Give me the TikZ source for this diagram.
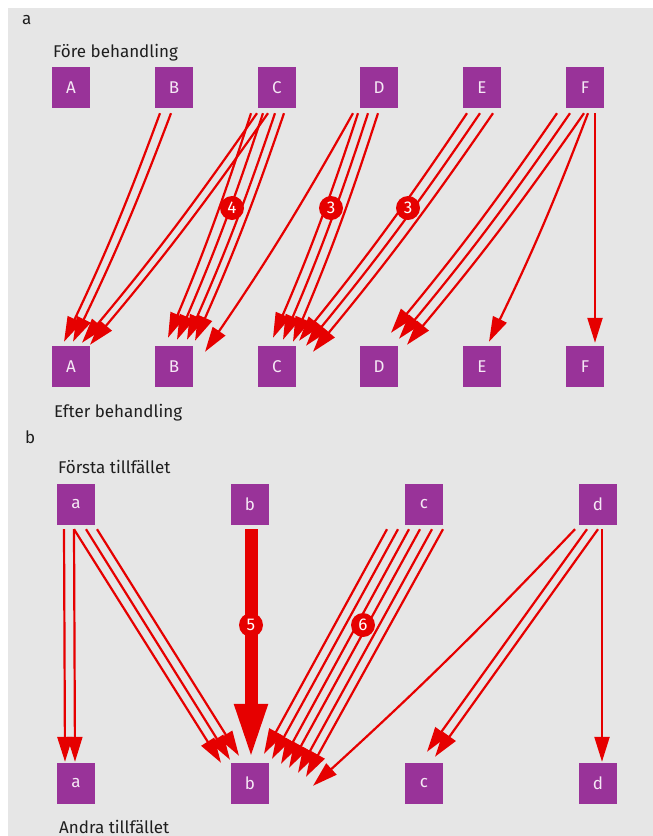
\documentclass[tikz,border=0pt]{standalone}
\usepackage{fontspec}
\setmainfont{Fira Sans}
\usetikzlibrary{arrows.meta,calc}
\definecolor{bggrey}{RGB}{230,230,230}
\definecolor{boxpurple}{RGB}{153,51,153}
\definecolor{arrred}{RGB}{230,0,0}
\definecolor{boxtext}{RGB}{245,232,245}
\definecolor{lbltext}{RGB}{30,30,30}
\begin{document}
\begin{tikzpicture}[x=1pt,y=-1pt,
  box/.style={fill=boxpurple,minimum width=38pt,minimum height=41pt,inner sep=0pt,text=boxtext,font=\fontsize{17}{17}\selectfont},
  lbl/.style={anchor=base west,inner sep=0pt,text=lbltext,font=\fontsize{17}{17}\selectfont},
  arr/.style={draw=arrred,line width=2.2pt,-{Triangle[length=25pt,width=15pt]}},
  thickarr/.style={draw=arrred,line width=13pt,-{Triangle[length=56pt,width=30pt]}},
  badge/.style={circle,fill=arrred,minimum size=24pt,inner sep=0pt,text=white,font=\fontsize{17}{17}\selectfont},
  bd/.style={bend left=2.5}]
\useasboundingbox (0,0) rectangle (653,836);
\fill[bggrey] (8,8) rectangle (653,836);

% labels
\node[lbl] (la) at (22,24) {a};
\node[lbl] (fore) at (53,57) {Före behandling};
\node[lbl] (efter) at (54,417) {Efter behandling};
\node[lbl] (lb) at (25,443) {b};
\node[lbl] (forsta) at (58,473) {Första tillfället};
\node[lbl] (andra) at (59,833) {Andra tillfället};

% panel a boxes
\foreach \n/\x in {A/71,B/174,C/277,D/379,E/482,F/585}{
  \node[box] (t\n) at (\x,87.5) {\n};
  \node[box] (b\n) at (\x,366.5) {\n};
}
% panel b boxes
\foreach \n/\x in {a/76,b/250,c/424,d/598}{
  \node[box] (t\n) at (\x,504.5) {\n};
  \node[box] (b\n) at (\x,783.5) {\n};
}

% panel a arrows
\foreach \s/\sx/\t/\tx/\ty in {
  tB/-14/bA/-7/4, tB/-3/bA/2/4,
  tC/-20/bA/11/3, tC/-9/bA/19/1,
  tC/-26/bB/-6/8, tC/-14/bB/3/6, tC/-2/bB/13/6, tC/7/bB/21/5,
  tD/-26/bB/31/-6,
  tD/-21/bC/-4/8, tD/-11/bC/6/6, tD/-1/bC/16/4,
  tE/-15/bC/22/5, tE/-2/bC/29/0, tE/11/bC/36/-6,
  tF/-28/bD/12/13, tF/-15/bD/20/7, tF/-1/bD/28/1,
  tF/3/bE/7/4}{
  \draw[arr] ([xshift=\sx pt,yshift=-5pt]\s.south) to[bd] ([xshift=\tx pt,yshift=\ty pt]\t.north);
}
\draw[arr] ([xshift=10pt,yshift=-5pt]tF.south) -- ([xshift=10pt,yshift=3pt]bF.north);

% panel b arrows
\foreach \s/\sx/\t/\tx/\ty in {
  ta/-12/ba/-11/1, ta/-2/ba/-1/1,
  ta/-2/bb/-29/0, ta/10/bb/-20/3, ta/21/bb/-11/7,
  tc/-37/bb/14/9, tc/-26/bb/22/4, tc/-15/bb/31/-1, tc/-4/bb/39/-5, tc/8/bb/48/-10, tc/19/bb/56/-14,
  td/-11/bc/3/11, td/0/bc/11/6,
  td/4/bd/4/1}{
  \draw[arr] ([xshift=\sx pt,yshift=-4pt]\s.south) -- ([xshift=\tx pt,yshift=\ty pt]\t.north);
}
\draw[arr] ([xshift=-23pt,yshift=-4pt]td.south) to[bend left=2] ([xshift=63pt,yshift=-23pt]bb.north);
\draw[thickarr] ([xshift=1pt,yshift=-4pt]tb.south) -- ([xshift=1pt,yshift=3pt]bb.north);

% badges
\node[badge] (n4) at (232,208) {4};
\node[badge] (n3a) at (331,208) {3};
\node[badge] (n3b) at (408,208) {3};
\node[badge] (n5) at (251,625) {5};
\node[badge] (n6) at (363,625) {6};
\end{tikzpicture}
\end{document}
